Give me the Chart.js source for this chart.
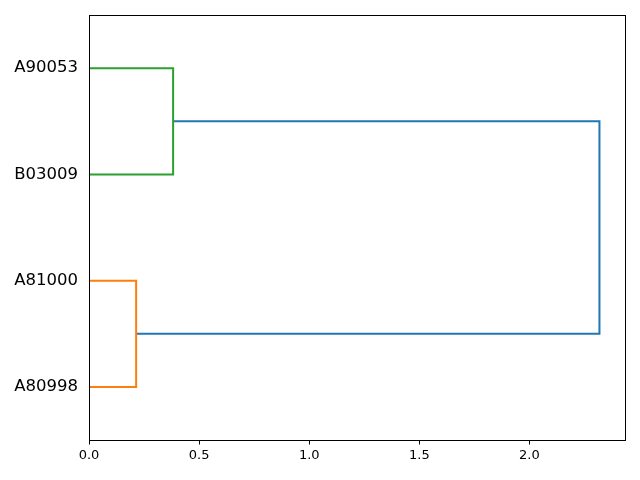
<!DOCTYPE html>
<html>
<head>
<meta charset="utf-8">
<script src="https://cdn.jsdelivr.net/npm/chart.js@4.4.1/dist/chart.umd.min.js"></script>
<style>
  html, body { margin: 0; padding: 0; background: #fff; }
  #wrap { width: 640px; height: 480px; }
</style>
</head>
<body>
<div id="wrap"><canvas id="dendro" width="640" height="480"></canvas></div>
<script>
// leaf order as read top -> bottom is reversed; scipy puts leaf 0 at the bottom
const leafLabels = ['A80998', 'A81000', 'B03009', 'A90053'];
// merges: pairs of cluster ids (leaves 0..3, then new clusters 4, 5, ...)
const mergePairs = [[0, 1], [2, 3], [4, 5]];
const mergeHeights = [0.214, 0.382, 2.318];
const linkColors = ['#ff7f0e', '#2ca02c', '#1f77b4'];
const xTicks = [0.0, 0.5, 1.0, 1.5, 2.0];

// position of each cluster: y = 5, 15, 25 ... for leaves, midpoint for merges
const clusterY = leafLabels.map((_, i) => 5 + i * 10);
const clusterX = leafLabels.map(() => 0);

const datasets = mergePairs.map((pair, i) => {
    const [a, b] = pair;
    const h = mergeHeights[i];
    clusterY.push((clusterY[a] + clusterY[b]) / 2);
    clusterX.push(h);
    return {
        data: [
            { x: clusterX[a], y: clusterY[a] },
            { x: h, y: clusterY[a] },
            { x: h, y: clusterY[b] },
            { x: clusterX[b], y: clusterY[b] }
        ],
        showLine: true,
        borderColor: linkColors[i],
        borderWidth: 2,
        pointRadius: 0,
        tension: 0,
        fill: false
    };
});

// frame around the plot area (matplotlib spines) + x tick marks
const frame = {
    id: 'frame',
    afterDraw(chart) {
        const { ctx, chartArea: a } = chart;
        const xs = chart.scales.x;
        ctx.save();
        ctx.strokeStyle = '#000';
        ctx.lineWidth = 1;
        const b = Math.round(a.bottom) + 0.5;
        ctx.strokeRect(Math.round(a.left) + 0.5, Math.round(a.top) + 0.5,
            Math.round(a.right - a.left), Math.round(a.bottom - a.top));
        ctx.beginPath();
        xTicks.forEach(v => {
            const px = Math.round(xs.getPixelForValue(v)) + 0.5;
            ctx.moveTo(px, b);
            ctx.lineTo(px, b + 4);
        });
        ctx.stroke();
        ctx.restore();
    }
};

new Chart(document.getElementById('dendro'), {
    type: 'scatter',
    data: { datasets },
    plugins: [frame],
    options: {
        responsive: false,
        animation: false,
        layout: { padding: { top: 15, right: 15, left: 0, bottom: 0 } },
        plugins: { legend: { display: false }, tooltip: { enabled: false } },
        scales: {
            x: {
                type: 'linear',
                min: 0,
                max: 2.434,
                afterBuildTicks: (axis) => { axis.ticks = xTicks.map(v => ({ value: v })); },
                afterFit: (axis) => { axis.height = 40; axis.paddingLeft = 0; axis.paddingRight = 0; },
                grid: { display: false, drawTicks: false },
                border: { display: false },
                ticks: {
                    color: '#000',
                    padding: 8,
                    maxRotation: 0,
                    font: { family: 'DejaVu Sans', size: 13 },
                    callback: (v) => Number(v).toFixed(1)
                }
            },
            y: {
                type: 'linear',
                min: 0,
                max: 40,
                afterBuildTicks: (axis) => { axis.ticks = clusterY.slice(0, leafLabels.length).map(v => ({ value: v })); },
                afterFit: (axis) => { axis.width = 89; axis.paddingTop = 0; axis.paddingBottom = 0; },
                grid: { display: false, drawTicks: false },
                border: { display: false },
                ticks: {
                    color: '#000',
                    padding: 11,
                    font: { family: 'DejaVu Sans', size: 16.5 },
                    callback: (v) => leafLabels[clusterY.indexOf(v)]
                }
            }
        }
    }
});
</script>
</body>
</html>
